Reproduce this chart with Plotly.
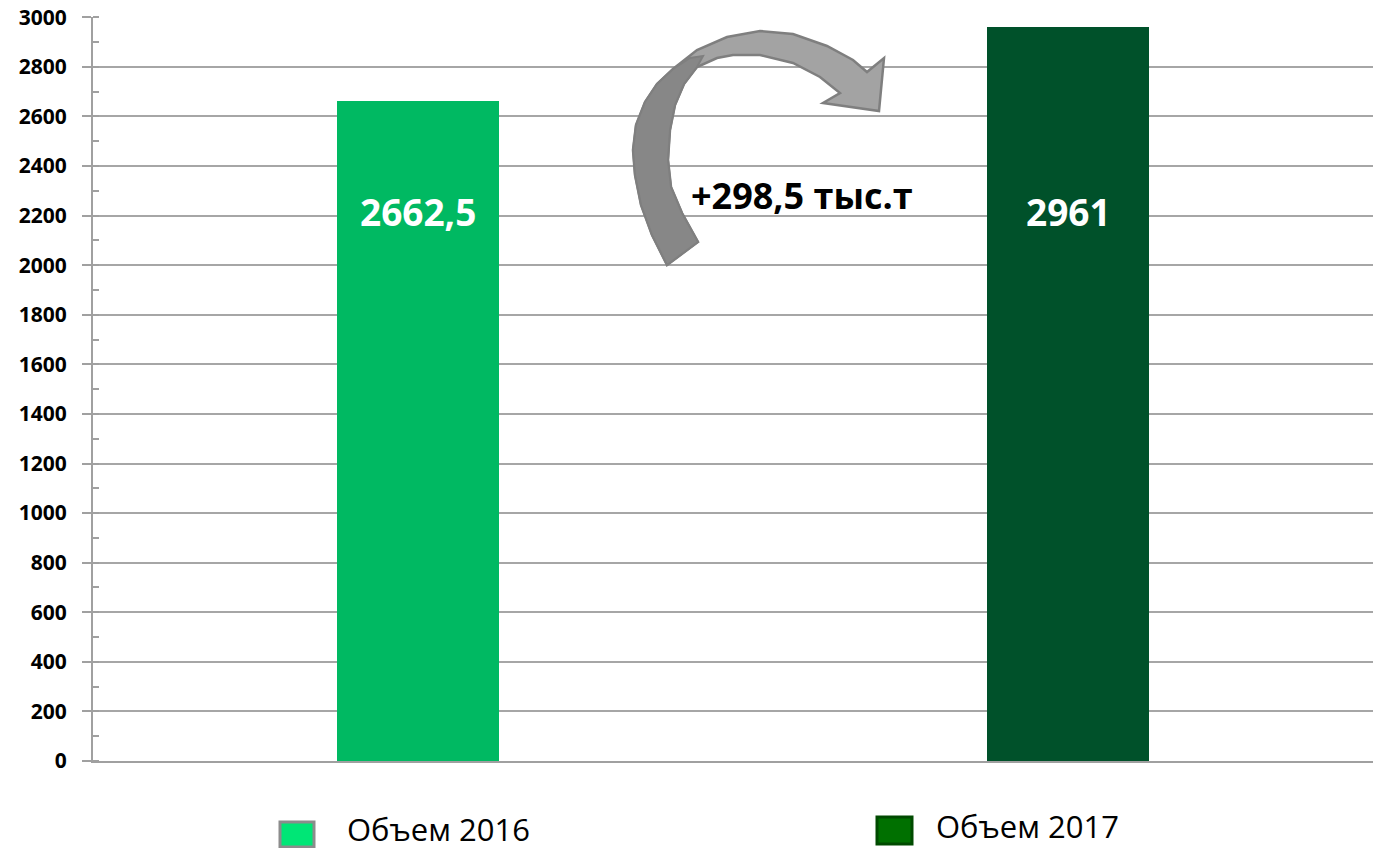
import plotly.graph_objects as go

# ---- data ----
categories = ["Объем 2016", "Объем 2017"]
values = [2662.5, 2961]
bar_colors = ["#00B962", "#00512A"]
legend_fill = ["#00E676", "#007000"]
legend_line = ["#8C8C8C", "#004A00"]
y_ticks = list(range(0, 3001, 200))

OFF = 8  # page body margin of the browser
W, H = 1381 - OFF, 848 - OFF
L, T = 93 - OFF, 17 - OFF
B = H - (761 - OFF)
PW, PH = W - L, H - T - B


def px2paper(x, y):
    # x, y are screenshot pixel coordinates
    return (x - OFF - L) / PW, (H - B - (y - OFF)) / PH


def path(pts):
    s = ""
    for i, (x, y) in enumerate(pts):
        px, py = px2paper(x, y)
        s += ("M" if i == 0 else "L") + f"{px:.5f},{py:.5f} "
    return s + "Z"


def fmt(v):
    return f"{v:g}".replace(".", ",")


fig = go.Figure()
fig.add_trace(go.Bar(
    x=[0, 1], y=values, width=0.25,
    marker=dict(color=bar_colors, line=dict(width=0)),
    hovertext=categories, showlegend=False,
))

# value labels inside bars
for i, v in enumerate(values):
    fig.add_annotation(x=i, y=2218, xref="x", yref="y", text=f"<b>{fmt(v)}</b>",
                       showarrow=False, font=dict(family="Open Sans", size=37, color="white"))

# increase label
diff = values[1] - values[0]
fig.add_annotation(x=0.5905, y=2282, xref="x", yref="y",
                   text=f"<b>+{fmt(diff)} тыс.т</b>", showarrow=False,
                   font=dict(family="Open Sans", size=36, color="black"))

# curved arrow (decoration)
outline = [(667, 265), (652, 235), (641, 205), (635, 175), (633, 150), (636, 125),
           (645, 102), (657, 84), (673, 69), (697, 50), (727, 37), (760, 31),
           (793, 34), (827, 46), (853, 60), (867, 72), (884, 58), (879, 111),
           (823, 103), (840, 93), (820, 77), (793, 63), (760, 55), (733, 55),
           (717, 58), (697, 67), (684, 84), (675, 105), (670, 130), (668, 160),
           (671, 187), (682, 213), (698, 242)]
dark = [(667, 265), (652, 235), (641, 205), (635, 175), (633, 150), (636, 125),
        (645, 102), (657, 84), (673, 69), (690, 58), (703, 56), (697, 67),
        (684, 84), (675, 105), (670, 130), (668, 160), (671, 187), (682, 213),
        (698, 242)]
shapes = [
    dict(type="path", xref="paper", yref="paper", path=path(outline),
         fillcolor="#A3A3A3", line=dict(color="#7F7F7F", width=2.5), layer="above"),
    dict(type="path", xref="paper", yref="paper", path=path(dark),
         fillcolor="#878787", line=dict(color="#7F7F7F", width=2), layer="above"),
]

# custom legend
leg = [((280, 822, 314, 847), (345, 829)), ((877, 817, 912, 844), (934, 826))]
for i, ((x0, y0, x1, y1), (tx, ty)) in enumerate(leg):
    a0, b0 = px2paper(x0, y0)
    a1, b1 = px2paper(x1, y1)
    shapes.append(dict(type="rect", xref="paper", yref="paper", x0=a0, x1=a1, y0=b0, y1=b1,
                       fillcolor=legend_fill[i], line=dict(color=legend_line[i], width=3)))
    ax, ay = px2paper(tx, ty)
    fig.add_annotation(x=ax, y=ay, xref="paper", yref="paper", text=categories[i],
                       xanchor="left", yanchor="middle", showarrow=False,
                       font=dict(family="Open Sans", size=31, color="black"))

fig.update_layout(
    width=W, height=H,
    margin=dict(l=L, r=0, t=T, b=B, autoexpand=False),
    plot_bgcolor="white", paper_bgcolor="white",
    shapes=shapes, showlegend=False,
    bargap=0,
)
fig.update_xaxes(range=[-0.5, -0.5 + PW / 650], showgrid=False, showticklabels=False,
                 showline=True, linecolor="#A0A0A0", linewidth=2, ticks="", zeroline=False,
                 automargin=False)
fig.update_yaxes(range=[0, 3001], tickvals=y_ticks, ticktext=[str(v) for v in y_ticks],
                 showgrid=True, gridcolor="#A6A6A6", gridwidth=2,
                 showline=True, linecolor="#A0A0A0", linewidth=2,
                 ticks="outside", ticklen=9, tickwidth=2, tickcolor="#A0A0A0",
                 ticklabelstandoff=11, zeroline=False, ticklabeloverflow="allow",
                 automargin=False,
                 tickfont=dict(family="Open Sans", size=21, color="black", weight="bold"),
                 minor=dict(ticks="inside", ticklen=6, tickwidth=2, tickcolor="#A0A0A0",
                            dtick=100, tick0=0, showgrid=False))

fig.write_html("out.html")
